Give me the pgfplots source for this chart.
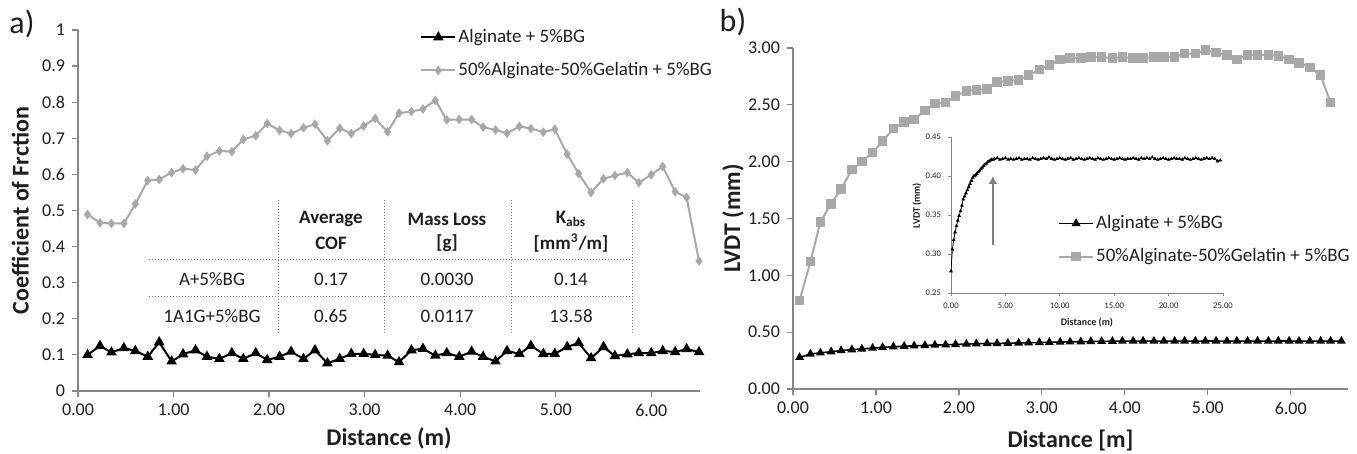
\documentclass[border=0pt]{standalone}
\usepackage{fontspec}
\setmainfont{Carlito}
\usepackage{pgfplots}
\pgfplotsset{compat=1.18}
\usetikzlibrary{arrows.meta}

\definecolor{axgray}{RGB}{134,134,134}
\definecolor{sergray}{RGB}{168,168,168}
\definecolor{txt}{RGB}{30,30,30}

\pgfplotsset{
  panel/.style={
    scale only axis,
    axis x line*=bottom, axis y line*=left,
    axis line style={axgray, line width=0.6pt},
    every tick/.style={axgray, line width=0.6pt},
    tick align=outside, major tick length=3pt,
    tick label style={font=\fontsize{9}{11}\selectfont, color=txt},
    /pgf/number format/assume math mode=true,
    label style={font=\bfseries\fontsize{12}{14}\selectfont, color=txt},
    legend style={draw=none, fill=none, anchor=north west,
      font=\fontsize{9.5}{11}\selectfont, text=txt,
      row sep=6.5pt, nodes={inner sep=1pt}},
    legend cell align=left,
  },
}

\begin{document}
\begin{tikzpicture}[x=1pt,y=1pt]
\path[use as bounding box] (0,0) rectangle (678.5,227);

% a) coefficient of friction
\begin{axis}[panel,
  at={(39pt,31.5pt)}, anchor=south west,
  width=311pt, height=180.5pt,
  xmin=0, xmax=6.51, ymin=0, ymax=1,
  xtick={0,1,2,3,4,5,6},
  ytick={0,0.1,0.2,0.3,0.4,0.5,0.6,0.7,0.8,0.9,1},
  xticklabel style={/pgf/number format/.cd, fixed, fixed zerofill, precision=2},
  yticklabel style={/pgf/number format/.cd, fixed, precision=1},
  xlabel={Distance (m)}, ylabel={Coefficient of Frction},
  xlabel style={at={(axis description cs:0.5,-0.130)}, anchor=center},
  ylabel style={at={(axis description cs:-0.093,0.5)}, anchor=center},
  legend style={at={(0.540,1.020)}},
]
\addplot[black, line width=1pt, mark=triangle*, mark size=2.1pt] coordinates {
(0.10,0.100) (0.23,0.125) (0.35,0.107) (0.48,0.119) (0.60,0.111) (0.73,0.095)
(0.85,0.135) (0.98,0.082) (1.10,0.102) (1.23,0.113) (1.35,0.095) (1.48,0.089)
(1.61,0.105) (1.73,0.089) (1.86,0.105) (1.98,0.086) (2.11,0.095) (2.23,0.109)
(2.36,0.089) (2.48,0.113) (2.61,0.077) (2.74,0.089) (2.86,0.103) (2.99,0.103)
(3.11,0.100) (3.24,0.098) (3.36,0.080) (3.49,0.113) (3.61,0.117) (3.74,0.098)
(3.86,0.105) (3.99,0.095) (4.12,0.109) (4.24,0.095) (4.37,0.082) (4.49,0.111)
(4.62,0.103) (4.74,0.125) (4.87,0.103) (4.99,0.103) (5.12,0.122) (5.24,0.133)
(5.37,0.091) (5.50,0.122) (5.62,0.097) (5.75,0.102) (5.87,0.105) (6.00,0.105)
(6.12,0.111) (6.25,0.108) (6.37,0.116) (6.50,0.108)
};
\addlegendentry{Alginate + 5\%BG}
\addplot[sergray, line width=1pt, mark=diamond*, mark size=1.6pt] coordinates {
(0.10,0.489) (0.23,0.466) (0.35,0.464) (0.48,0.464) (0.60,0.518) (0.73,0.583)
(0.85,0.586) (0.98,0.605) (1.10,0.616) (1.23,0.612) (1.35,0.650) (1.48,0.665)
(1.61,0.663) (1.73,0.697) (1.86,0.707) (1.98,0.741) (2.11,0.722) (2.23,0.713)
(2.36,0.729) (2.48,0.739) (2.61,0.693) (2.74,0.728) (2.86,0.713) (2.99,0.734)
(3.11,0.755) (3.24,0.718) (3.36,0.770) (3.49,0.774) (3.61,0.781) (3.74,0.805)
(3.86,0.751) (3.99,0.752) (4.12,0.752) (4.24,0.731) (4.37,0.723) (4.49,0.714)
(4.62,0.733) (4.74,0.727) (4.87,0.717) (4.99,0.725) (5.12,0.656) (5.24,0.602)
(5.37,0.550) (5.50,0.588) (5.62,0.597) (5.75,0.605) (5.87,0.577) (6.00,0.599)
(6.12,0.622) (6.25,0.552) (6.37,0.536) (6.50,0.360)
};
\addlegendentry{50\%Alginate-50\%Gelatin + 5\%BG}
\end{axis}

% b) LVDT
\begin{axis}[panel,
  at={(396.5pt,32.5pt)}, anchor=south west,
  width=277.5pt, height=170.5pt,
  xmin=0, xmax=6.69, ymin=0, ymax=3,
  xtick={0,1,2,3,4,5,6},
  ytick={0,0.5,1,1.5,2,2.5,3},
  xticklabel style={/pgf/number format/.cd, fixed, fixed zerofill, precision=2},
  yticklabel style={/pgf/number format/.cd, fixed, fixed zerofill, precision=2},
  xlabel={Distance [m]}, ylabel={LVDT (mm)},
  xlabel style={at={(axis description cs:0.5,-0.150)}, anchor=center},
  ylabel style={at={(axis description cs:-0.108,0.5)}, anchor=center},
  legend style={at={(0.466,0.528)}},
]
\addplot[black, line width=0.8pt, mark=triangle*, mark size=1.8pt] coordinates {
(0.08,0.278) (0.21,0.308) (0.33,0.318) (0.46,0.328) (0.58,0.338) (0.71,0.346)
(0.83,0.352) (0.96,0.360) (1.08,0.366) (1.21,0.372) (1.34,0.376) (1.46,0.380)
(1.59,0.383) (1.71,0.386) (1.84,0.389) (1.96,0.392) (2.09,0.395) (2.21,0.398)
(2.34,0.400) (2.46,0.401) (2.59,0.403) (2.72,0.405) (2.84,0.407) (2.97,0.409)
(3.09,0.411) (3.22,0.413) (3.34,0.415) (3.47,0.416) (3.59,0.418) (3.72,0.419)
(3.85,0.420) (3.97,0.421) (4.10,0.421) (4.22,0.422) (4.35,0.421) (4.47,0.422)
(4.60,0.421) (4.72,0.422) (4.85,0.421) (4.97,0.422) (5.10,0.422) (5.23,0.421)
(5.35,0.422) (5.48,0.421) (5.60,0.422) (5.73,0.421) (5.85,0.422) (5.98,0.422)
(6.10,0.421) (6.23,0.422) (6.36,0.421) (6.48,0.422) (6.61,0.421)
};
\addlegendentry{Alginate + 5\%BG}
\addplot[sergray, line width=1pt, mark=square*, mark size=1.9pt] coordinates {
(0.08,0.78) (0.21,1.12) (0.33,1.47) (0.46,1.63) (0.58,1.76) (0.71,1.93)
(0.83,2.00) (0.96,2.08) (1.08,2.18) (1.21,2.29) (1.34,2.35) (1.46,2.37)
(1.59,2.45) (1.71,2.51) (1.84,2.52) (1.96,2.58) (2.09,2.62) (2.21,2.63)
(2.34,2.64) (2.46,2.70) (2.59,2.71) (2.72,2.72) (2.84,2.76) (2.97,2.81)
(3.09,2.85) (3.22,2.90) (3.34,2.91) (3.47,2.91) (3.59,2.92) (3.72,2.92)
(3.85,2.91) (3.97,2.92) (4.10,2.91) (4.22,2.91) (4.35,2.92) (4.47,2.92)
(4.60,2.92) (4.72,2.95) (4.85,2.95) (4.97,2.98) (5.10,2.96) (5.23,2.94)
(5.35,2.90) (5.48,2.94) (5.60,2.94) (5.73,2.94) (5.85,2.93) (5.98,2.90)
(6.10,2.87) (6.23,2.83) (6.36,2.76) (6.48,2.52)
};
\addlegendentry{50\%Alginate-50\%Gelatin + 5\%BG}
\end{axis}

% inset
\begin{axis}[panel,
  at={(475.5pt,80.5pt)}, anchor=south west,
  width=136pt, height=78pt,
  xmin=0, xmax=25, ymin=0.25, ymax=0.45,
  xtick={0,5,10,15,20,25},
  ytick={0.25,0.3,0.35,0.4,0.45},
  axis line style={axgray, line width=0.4pt},
  every tick/.style={axgray, line width=0.4pt},
  major tick length=1.5pt,
  tick label style={font=\fontsize{4.3}{5}\selectfont},
  label style={font=\bfseries\fontsize{5}{6}\selectfont},
  xticklabel style={/pgf/number format/.cd, fixed, fixed zerofill, precision=2},
  yticklabel style={/pgf/number format/.cd, fixed, fixed zerofill, precision=2},
  xlabel={Distance (m)}, ylabel={LVDT (mm)},
  xlabel style={at={(axis description cs:0.5,-0.19)}, anchor=center},
  ylabel style={at={(axis description cs:-0.125,0.56)}, anchor=center},
]
\addplot[black, line width=0.4pt, mark=triangle*, mark size=0.7pt] coordinates {
(0.000,0.278) (0.125,0.306) (0.250,0.318) (0.375,0.328) (0.500,0.336)
(0.625,0.343) (0.750,0.349) (0.875,0.355) (1.000,0.362) (1.125,0.370)
(1.250,0.374) (1.375,0.378) (1.500,0.382) (1.625,0.386) (1.750,0.390)
(1.875,0.394) (2.000,0.398) (2.125,0.400) (2.250,0.401) (2.375,0.403)
(2.500,0.405) (2.625,0.407) (2.750,0.409) (2.875,0.411) (3.000,0.413)
(3.125,0.415) (3.250,0.416) (3.375,0.418) (3.500,0.419) (3.625,0.420)
(3.750,0.421) (3.875,0.421) (4.000,0.422) (4.25,0.423) (4.50,0.421)
(4.75,0.422) (5.00,0.423) (5.25,0.421) (5.50,0.422) (5.75,0.421)
(6.00,0.422) (6.25,0.423) (6.50,0.421) (6.75,0.422) (7.00,0.422)
(7.25,0.421) (7.50,0.423) (7.75,0.422) (8.00,0.421) (8.25,0.422)
(8.50,0.423) (8.75,0.422) (9.00,0.424) (9.25,0.422) (9.50,0.421)
(9.75,0.422) (10.00,0.423) (10.25,0.422) (10.50,0.421) (10.75,0.422)
(11.00,0.423) (11.25,0.421) (11.50,0.422) (11.75,0.423) (12.00,0.422)
(12.25,0.421) (12.50,0.422) (12.75,0.423) (13.00,0.422) (13.25,0.421)
(13.50,0.423) (13.75,0.422) (14.00,0.421) (14.25,0.422) (14.50,0.423)
(14.75,0.422) (15.00,0.421) (15.25,0.422) (15.50,0.423) (15.75,0.422)
(16.00,0.421) (16.25,0.422) (16.50,0.422) (16.75,0.423) (17.00,0.422)
(17.25,0.421) (17.50,0.423) (17.75,0.422) (18.00,0.423) (18.25,0.422)
(18.50,0.424) (18.75,0.422) (19.00,0.421) (19.25,0.422) (19.50,0.423)
(19.75,0.422) (20.00,0.421) (20.25,0.422) (20.50,0.423) (20.75,0.422)
(21.00,0.422) (21.25,0.421) (21.50,0.423) (21.75,0.422) (22.00,0.421)
(22.25,0.422) (22.50,0.423) (22.75,0.422) (23.00,0.421) (23.25,0.422)
(23.50,0.423) (23.75,0.422) (24.00,0.423) (24.25,0.422) (24.50,0.419)
(24.75,0.420)
};
\draw[-{Latex[length=4pt,width=4.5pt]}, line width=1.1pt, color=black!50]
  (axis cs:3.85,0.311) -- (axis cs:3.85,0.400);
\end{axis}

% panel letters and wear table (pixel coordinates)
\begin{scope}[x=0.5pt, y=-0.5pt, yshift=227pt]
\node[font=\fontsize{16}{18}\selectfont, text=txt] at (22,24) {a)};
\node[font=\fontsize{16}{18}\selectfont, text=txt] at (733,22) {b)};
\draw[black!55, densely dotted, line width=0.5pt]
  (278,200) -- (278,333) (384,200) -- (384,333)
  (511,200) -- (511,333) (632,200) -- (632,333)
  (149,260) -- (632,260) (149,297) -- (632,297);
\begin{scope}[every node/.style={font=\fontsize{9.5}{11}\selectfont, text=txt}]
\node[font=\bfseries\fontsize{9.5}{11}\selectfont] at (331,219) {Average};
\node[font=\bfseries\fontsize{9.5}{11}\selectfont] at (331,243) {COF};
\node[font=\bfseries\fontsize{9.5}{11}\selectfont] at (447,219) {Mass Loss};
\node[font=\bfseries\fontsize{9.5}{11}\selectfont] at (447,243) {[g]};
\node[font=\bfseries\fontsize{9.5}{11}\selectfont] at (571,219) {K\textsubscript{abs}};
\node[font=\bfseries\fontsize{9.5}{11}\selectfont] at (571,243) {[mm\textsuperscript{3}/m]};
\node at (212,279) {A+5\%BG};
\node at (331,279) {0.17};
\node at (447,279) {0.0030};
\node at (571,279) {0.14};
\node at (212,316) {1A1G+5\%BG};
\node at (331,316) {0.65};
\node at (447,316) {0.0117};
\node at (571,316) {13.58};
\end{scope}
\end{scope}
\end{tikzpicture}
\end{document}
